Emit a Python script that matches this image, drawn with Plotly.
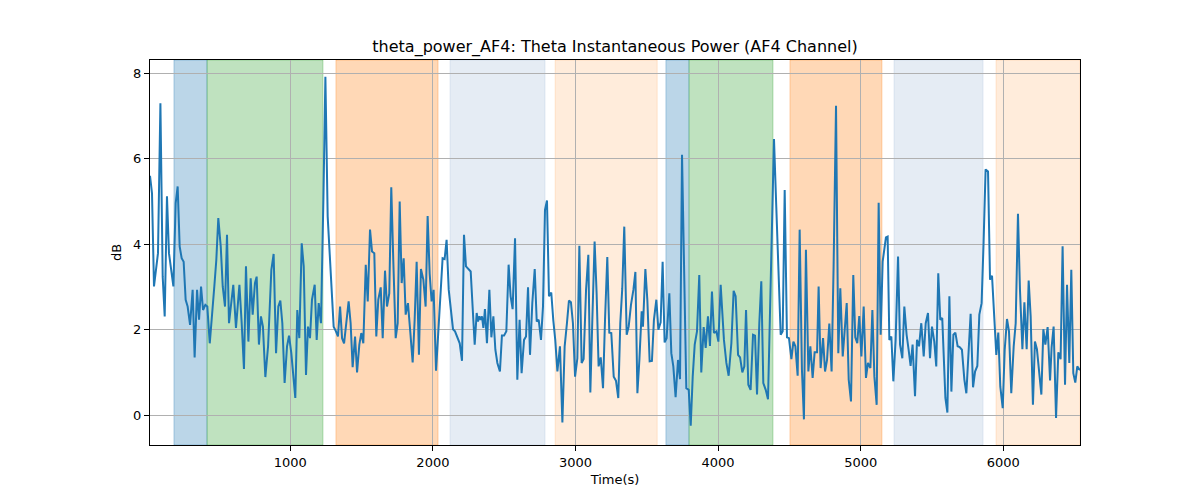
import plotly.graph_objects as go

# ---- data ----
time_s = [16, 30, 44, 58, 72, 89, 105, 119, 135, 149, 166, 180, 196, 210, 224, 238, 252, 266, 280, 297,
          315, 329, 346, 360, 374, 388, 404, 418, 435, 451, 467, 481, 495, 512, 526, 542, 556, 570,
          600, 619, 643, 659, 675, 689, 706, 722, 736, 752, 764, 780, 794, 808, 825, 844, 867, 883,
          900, 916, 930, 944, 960, 977, 991, 1007, 1021, 1035, 1049, 1063, 1080, 1094, 1110, 1124, 1138,
          1152, 1171, 1185, 1199, 1215, 1232, 1246, 1262, 1281, 1304, 1320, 1334, 1349, 1363, 1377, 1393,
          1409, 1423, 1437, 1454, 1468, 1484, 1498, 1512, 1529, 1543, 1559, 1573, 1589, 1603, 1617, 1634,
          1648, 1664, 1678, 1694, 1708, 1722,
          1739, 1753, 1767, 1781, 1795, 1809, 1825, 1842, 1858, 1872, 1886, 1902, 1916, 1933, 1949, 1963,
          1977, 1991, 2005, 2022, 2038, 2054, 2068, 2082, 2096, 2111, 2125, 2141, 2155, 2171, 2188, 2204,
          2218, 2232, 2246, 2265, 2279, 2293,
          2307, 2316, 2326, 2335, 2344, 2354, 2365, 2379, 2396, 2410, 2424, 2438, 2452, 2470, 2484, 2499,
          2515, 2531, 2545, 2559, 2576, 2592, 2608, 2622, 2639, 2653, 2667, 2681, 2697, 2714, 2728, 2742,
          2758, 2772, 2786, 2800, 2814, 2830, 2844, 2858, 2873,
          2891, 2908, 2924, 2940, 2954, 2968, 2982, 2997, 3013, 3027, 3043, 3057, 3074, 3090, 3104, 3118,
          3134, 3148, 3162, 3177, 3193, 3207, 3223, 3237, 3251, 3268, 3284, 3300, 3314, 3328, 3342, 3359,
          3373, 3389, 3406, 3420, 3434, 3448,
          3464, 3473, 3490, 3504, 3520, 3536, 3550, 3567, 3581, 3597, 3611, 3625, 3639, 3658, 3672, 3686,
          3702, 3719, 3733, 3747, 3761, 3777, 3794, 3808, 3822, 3836, 3852, 3868, 3882, 3899, 3913, 3929,
          3943, 3957, 3971, 3988, 4002, 4018,
          4041, 4058, 4074, 4093, 4109, 4123, 4140, 4154, 4170, 4184, 4196, 4212, 4228, 4245, 4259, 4273,
          4289, 4303, 4317, 4334, 4350, 4369, 4392, 4408, 4425, 4439, 4453, 4467, 4483, 4497, 4514, 4528,
          4542, 4558, 4572, 4588, 4602,
          4616, 4633, 4647, 4663, 4677, 4694, 4705, 4719, 4736, 4750, 4764, 4780, 4796, 4810, 4827, 4843,
          4857, 4874, 4888, 4902, 4916, 4932, 4948, 4962, 4976, 4990, 5005, 5021, 5037, 5051, 5068, 5082,
          5096, 5112, 5126, 5140, 5154, 5170,
          5177, 5189, 5201, 5215, 5229, 5245, 5262, 5276, 5292, 5306, 5322, 5336, 5350, 5364, 5381, 5395,
          5409, 5425, 5442, 5456, 5472, 5486, 5500, 5516, 5530, 5544, 5558, 5572, 5584, 5594, 5608, 5622,
          5636, 5650, 5664, 5680, 5694, 5710, 5727, 5741,
          5771, 5788, 5802, 5818, 5832, 5848, 5862, 5876, 5893, 5907, 5921, 5935, 5951, 5965, 5979, 5996,
          6010, 6026, 6040, 6056, 6073, 6087, 6103, 6117, 6134, 6148, 6164, 6178, 6192, 6208, 6222, 6236,
          6253, 6267, 6281, 6295, 6311, 6328,
          6339, 6353, 6370, 6386, 6402, 6416, 6433, 6447, 6463, 6477, 6491, 6505, 6519, 6538]

power_db = [5.60, 5.19, 3.01, 3.40, 3.79, 7.30, 3.24, 2.31, 5.12, 3.79, 3.32, 3.01, 4.96, 5.35, 3.95, 3.67,
            3.59, 2.70, 2.54, 2.11, 2.93, 1.35, 2.93, 2.23, 3.01, 2.46, 2.58, 2.54, 1.68, 2.46, 3.01, 3.63,
            4.61, 3.95, 3.01, 2.54, 4.22, 2.15,
            3.05, 2.04, 3.05, 2.15, 1.08, 3.48, 1.72, 3.20, 2.35, 3.09, 3.24, 1.65, 2.31, 2.07, 0.89, 1.61,
            3.40, 3.77, 1.45, 2.54, 2.68, 2.15, 0.75, 1.61, 1.86, 1.45, 0.98, 0.40, 2.46, 1.80, 4.02, 3.48,
            0.94, 2.07, 1.80,
            2.70, 3.05, 1.76, 2.62, 2.15, 5.04, 7.92, 4.65, 3.48, 2.07, 1.96, 1.84, 2.54, 1.80, 1.68, 2.23,
            2.66, 2.15, 1.12, 1.84, 1.00, 1.65, 1.92, 1.68, 3.52, 2.66, 4.34, 3.83, 3.79, 1.84, 2.70, 2.99,
            1.80, 3.38, 2.54, 2.85, 5.33, 3.63,
            1.80, 2.15, 5.00, 3.09, 3.67, 2.35, 2.62, 1.92, 1.23, 2.23, 3.59, 1.41, 3.42, 3.17, 2.54, 4.66,
            3.32, 2.66, 2.93, 1.04, 1.92, 3.01, 3.67, 3.65, 4.10, 2.93, 2.54, 2.01, 1.96, 1.84, 1.68, 1.27,
            4.22, 3.48, 3.42, 3.36, 2.50, 1.65,
            2.39, 2.19, 2.31, 2.23, 2.31, 2.04, 2.48, 1.68, 2.93, 1.82, 2.31, 1.53, 1.22, 1.02, 1.86, 1.86,
            1.96, 3.52, 2.78, 2.48, 4.14, 0.83, 2.23, 0.98, 1.76, 1.84, 2.99, 1.41, 2.62, 3.42, 2.19, 2.23,
            1.76, 2.54, 4.80, 5.02, 2.78, 2.87, 2.23, 1.76, 1.02,
            1.61, -0.17, 1.61, 2.15, 2.68, 2.64, 2.15, 0.90, 1.33, 3.96, 1.22, 1.31, 2.93, 3.75, 0.53, 2.23,
            4.06, 2.85, 1.14, 1.35, 0.63, 2.23, 3.70, 1.93, 1.92, 0.90, 0.80, 0.40, 2.15, 2.97, 4.41, 1.88,
            2.07, 2.58, 2.93, 3.35, 0.51, 1.29,
            2.43, 2.07, 3.42, 2.68, 1.26, 1.27, 2.23, 2.70, 2.00, 2.17, 3.59, 1.70, 1.80, 2.85, 1.45, 1.14,
            0.42, 1.29, 0.84, 6.09, 3.24, 0.63, 0.59, -0.25, 0.90, 1.65, 1.96, 3.28, 1.00, 2.06, 1.57, 2.31,
            1.62, 2.89, 1.92, 1.96, 1.72, 3.05,
            1.76, 1.22, 0.92, 1.68, 2.91, 2.78, 1.41, 1.35, 1.00, 1.14, 2.46, 0.71, 0.59, 1.88, 1.86, 0.48,
            2.15, 3.13, 0.75, 0.59, 0.37, 2.93, 6.46, 4.88, 3.32, 1.88, 1.96, 5.27, 1.82, 1.80, 1.31, 1.72,
            1.61, 0.92, 4.34, 1.06, -0.10,
            3.87, 1.02, 1.61, 0.87, 1.47, 1.47, 3.01, 1.10, 1.80, 1.02, 1.29, 2.14, 1.02, 3.48, 7.24, 1.45,
            2.97, 1.37, 2.07, 2.62, 0.83, 0.32, 3.28, 1.82, 1.68, 2.32, 1.37, 2.54, 0.87, 1.22, 1.10, 2.46,
            0.90, 0.24, 4.97, 1.88, 3.59, 4.10,
            4.16, 4.18, 1.76, 1.84, 0.79, 1.76, 3.71, 1.65, 1.33, 2.54, 1.88, 1.53, 1.15, 1.65, 0.44, 1.76,
            1.61, 2.15, 1.37, 2.15, 2.39, 1.33, 2.07, 1.72, 1.14, 3.32, 2.23, 2.27, 1.29, 0.40, 0.06, 2.78,
            0.55, 1.88, 1.93, 1.61, 1.59, 1.53, 0.83, 0.51,
            2.37, 0.65, 1.02, 1.15, 2.35, 2.62, 4.06, 5.75, 5.70, 3.17, 3.26, 2.35, 1.41, 1.93, 0.67, 0.16,
            1.53, 2.25, 1.96, 0.51, 1.61, 2.15, 4.71, 2.93, 1.54, 2.64, 1.54, 3.15, 2.31, 0.24, 1.72, 1.54,
            0.98, 0.48, 2.01, 1.65, 2.06, 0.81,
            1.59, 2.07, -0.07, 1.47, 1.31, 3.95, 0.71, 3.05, 1.22, 3.40, 0.98, 0.76, 1.14, 1.05]

# shaded epochs: start, end, colour
span_starts = [184, 416, 1320, 2120, 2857, 3634, 3796, 4504, 5234, 5949]
span_ends = [416, 1229, 2036, 2786, 3573, 3796, 4385, 5149, 5858, 6538]
span_colors = ["rgba(31,119,180,0.3)", "rgba(44,160,44,0.3)", "rgba(255,127,14,0.3)",
               "rgba(176,196,222,0.33)", "rgba(255,127,14,0.15)",
               "rgba(31,119,180,0.3)", "rgba(44,160,44,0.3)", "rgba(255,127,14,0.3)",
               "rgba(176,196,222,0.33)", "rgba(255,127,14,0.15)"]

x_ticks = [1000, 2000, 3000, 4000, 5000, 6000]
y_ticks = [0, 2, 4, 6, 8]

fig = go.Figure()
fig.add_trace(go.Scatter(x=time_s, y=power_db, mode="lines",
                         line=dict(color="#1f77b4", width=2), showlegend=False))

for s, e, c in zip(span_starts, span_ends, span_colors):
    fig.add_vrect(x0=s, x1=e, fillcolor=c, line=dict(color=c, width=1), layer="below")

font = "DejaVu Sans, sans-serif"
# page body has an 8px margin, so margins are shifted to place the axes like the reference
fig.update_layout(
    width=1200, height=500,
    margin=dict(l=142, r=128, t=52, b=63),
    paper_bgcolor="white", plot_bgcolor="white",
    title=dict(text="theta_power_AF4: Theta Instantaneous Power (AF4 Channel)",
               x=0.5, xanchor="center", xref="paper", y=1 - 38 / 500, yanchor="middle",
               font=dict(family=font, size=16, color="black")),
    font=dict(family=font, size=13, color="black"),
)
fig.update_xaxes(range=[16, 6538], tickvals=x_ticks, showgrid=True, gridcolor="#b0b0b0",
                 gridwidth=1, zeroline=False, showline=True, mirror=True, linecolor="black",
                 linewidth=1, ticks="outside", ticklen=5, tickcolor="black",
                 title=dict(text="Time(s)", font=dict(family=font, size=13), standoff=6))
fig.update_yaxes(range=[-0.70, 8.31], tickvals=y_ticks, showgrid=True, gridcolor="#b0b0b0",
                 gridwidth=1, zeroline=False, showline=True, mirror=True, linecolor="black",
                 linewidth=1, ticks="outside", ticklen=5, tickcolor="black",
                 title=dict(text="dB", font=dict(family=font, size=13), standoff=8))

fig.write_html("out.html")
